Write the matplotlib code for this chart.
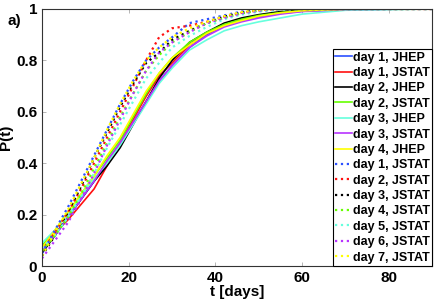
import matplotlib
matplotlib.use("Agg")
import matplotlib.pyplot as plt

plt.rcParams['font.family'] = ['Liberation Sans', 'DejaVu Sans']
plt.rcParams['font.weight'] = 'bold'

# tempo em dias
t = [0, 3, 6, 9, 12, 15, 18, 21, 24, 27, 30, 34, 38, 42, 46, 50, 55, 60, 70, 90]

# curvas cheias (JHEP / JSTAT por dia)
d1_jhep = [0.06, 0.12, 0.19, 0.26, 0.33, 0.40, 0.47, 0.56, 0.64, 0.72, 0.78, 0.85, 0.90, 0.935, 0.955, 0.97, 0.983, 0.991, 0.998, 1.0]
d1_jstat = [0.07, 0.13, 0.18, 0.24, 0.30, 0.39, 0.48, 0.57, 0.66, 0.74, 0.79, 0.86, 0.905, 0.935, 0.96, 0.975, 0.987, 0.994, 0.999, 1.0]
d2_jhep = [0.05, 0.12, 0.19, 0.26, 0.33, 0.39, 0.46, 0.55, 0.64, 0.73, 0.80, 0.87, 0.91, 0.945, 0.965, 0.978, 0.99, 0.995, 0.999, 1.0]
d2_jstat = [0.08, 0.14, 0.21, 0.28, 0.35, 0.42, 0.49, 0.58, 0.67, 0.75, 0.81, 0.87, 0.91, 0.94, 0.96, 0.975, 0.986, 0.993, 0.999, 1.0]
d3_jhep = [0.09, 0.14, 0.20, 0.27, 0.34, 0.40, 0.47, 0.55, 0.63, 0.71, 0.77, 0.84, 0.88, 0.915, 0.935, 0.95, 0.965, 0.98, 0.995, 1.0]
d3_jstat = [0.06, 0.12, 0.19, 0.26, 0.33, 0.41, 0.48, 0.56, 0.64, 0.72, 0.78, 0.85, 0.895, 0.93, 0.95, 0.965, 0.98, 0.99, 0.998, 1.0]
d4_jhep = [0.07, 0.14, 0.21, 0.28, 0.35, 0.43, 0.50, 0.59, 0.68, 0.75, 0.81, 0.86, 0.905, 0.935, 0.955, 0.972, 0.985, 0.993, 0.999, 1.0]

# curvas pontilhadas (JSTAT, dias 1-7)
p1 = [0.05, 0.14, 0.23, 0.33, 0.43, 0.53, 0.63, 0.72, 0.80, 0.85, 0.89, 0.945, 0.96, 0.975, 0.99, 0.997, 1, 1, 1, 1]
p2 = [0.06, 0.13, 0.21, 0.30, 0.40, 0.50, 0.60, 0.70, 0.80, 0.89, 0.925, 0.935, 0.95, 0.97, 0.985, 0.995, 1, 1, 1, 1]
p3 = [0.04, 0.12, 0.21, 0.31, 0.42, 0.52, 0.62, 0.71, 0.79, 0.83, 0.88, 0.915, 0.945, 0.97, 0.985, 0.995, 1, 1, 1, 1]
p4 = [0.06, 0.12, 0.19, 0.28, 0.38, 0.48, 0.58, 0.67, 0.76, 0.82, 0.87, 0.91, 0.945, 0.965, 0.983, 0.993, 1, 1, 1, 1]
p5 = [0.07, 0.12, 0.19, 0.27, 0.36, 0.46, 0.55, 0.64, 0.73, 0.79, 0.85, 0.895, 0.93, 0.96, 0.978, 0.99, 0.997, 1, 1, 1]
p6 = [0.03, 0.10, 0.17, 0.26, 0.36, 0.47, 0.57, 0.67, 0.76, 0.83, 0.87, 0.91, 0.945, 0.965, 0.983, 0.993, 1, 1, 1, 1]
p7 = [0.04, 0.13, 0.22, 0.32, 0.42, 0.53, 0.63, 0.72, 0.80, 0.85, 0.89, 0.925, 0.95, 0.972, 0.988, 0.996, 1, 1, 1, 1]

solid = [d1_jhep, d1_jstat, d2_jhep, d2_jstat, d3_jhep, d3_jstat, d4_jhep]
solid_labels = ["day 1, JHEP", "day 1, JSTAT", "day 2, JHEP", "day 2, JSTAT",
                "day 3, JHEP", "day 3, JSTAT", "day 4, JHEP"]
dotted = [p1, p2, p3, p4, p5, p6, p7]
dotted_labels = ["day %d, JSTAT" % i for i in range(1, 8)]

colors = ['#2b50ff', '#ff1010', '#000000', '#66ff00', '#66ffdd', '#b833ff', '#ffff00']

fig = plt.figure(figsize=(4.4, 2.99), dpi=100)
ax = fig.add_axes([0.0955, 0.110, 0.887, 0.860])

for y, lab, c in zip(solid, solid_labels, colors):
    ax.plot(t, y, color=c, lw=1.2, label=lab)
for y, lab, c in zip(dotted, dotted_labels, colors):
    ax.plot(t, y, color=c, lw=1.6, ls=':', label=lab)

ax.set_xlim(0, 90)
ax.set_ylim(0, 1)
ax.set_xticks([0, 20, 40, 60, 80])
ax.set_yticks([0, 0.2, 0.4, 0.6, 0.8, 1])
ax.set_yticklabels(["0", "0.2", "0.4", "0.6", "0.8", "1"])
ax.tick_params(direction='in', top=True, right=True, labelsize=11, length=3, width=0.5, colors='#999999', labelcolor='black')
for s in ax.spines.values():
    s.set_color('#333333')
    s.set_linewidth(0.8)

ax.set_xlabel("t [days]", fontsize=11, fontweight='bold', labelpad=0)
ax.set_ylabel("P(t)", fontsize=11, fontweight='bold', labelpad=2)
fig.text(0.018, 0.93, "a)", fontsize=11, fontweight='bold', va='center')

leg = ax.legend(loc='lower right', fontsize=9, handlelength=1.3, handletextpad=0.1,
                labelspacing=0.27, borderpad=0.2, borderaxespad=0.0,
                fancybox=False, framealpha=1, edgecolor='black')
leg.get_frame().set_linewidth(0.8)

fig.savefig("out.png", dpi=100)
